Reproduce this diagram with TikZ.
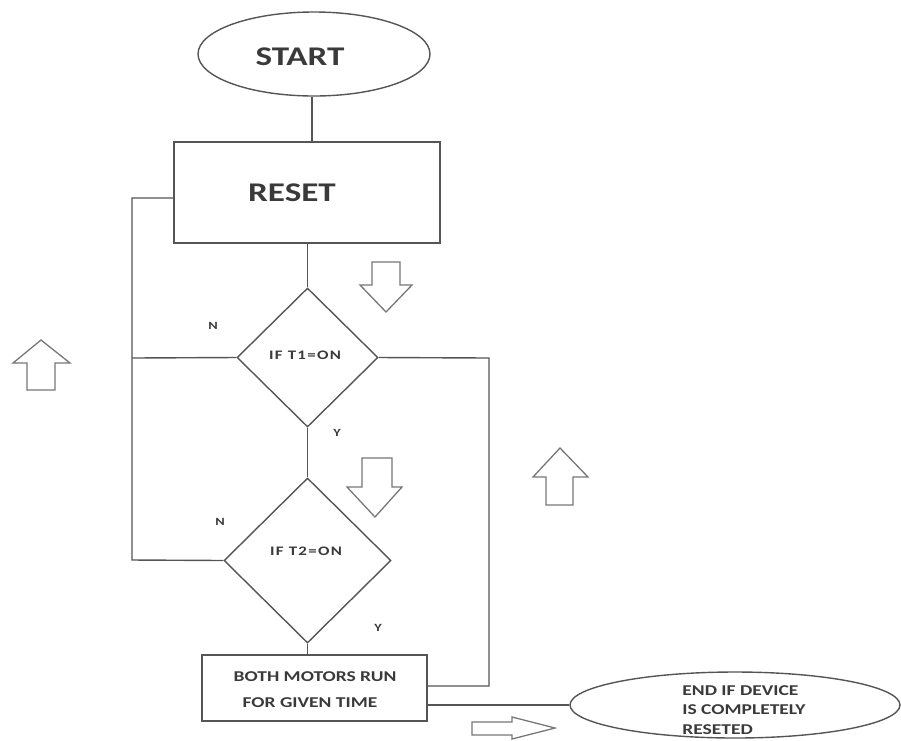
\documentclass[tikz,border=0pt]{standalone}
\usepackage{fontspec}
\setmainfont{Carlito}
\newfontfamily\widefont[FakeStretch=1.3]{Carlito}
\usetikzlibrary{shapes.geometric}
\definecolor{ln}{HTML}{555555}
\definecolor{tx}{HTML}{3A3A3A}
\begin{document}
\begin{tikzpicture}[x=1pt,y=-1pt,
  line width=1.3pt,
  conn/.style={draw=ln, line width=1.4pt},
  shapebox/.style={draw=ln, line width=1.4pt, inner sep=0pt, text=tx},
  bigtxt/.style={text=tx, font=\widefont\fontsize{27}{30}\selectfont\bfseries},
  dtxt/.style={text=tx, font=\widefont\fontsize{13}{15}\selectfont\bfseries\addfontfeature{LetterSpace=10}},
  btxt/.style={text=tx, font=\widefont\fontsize{15}{26}\selectfont\bfseries},
  lbl/.style={text=tx, font=\widefont\fontsize{11}{12}\selectfont\bfseries},
  blockarrow/.style={draw=ln!80, line width=1.3pt, line join=miter}]
\useasboundingbox (0,0) rectangle (901,740);

% nodes
\node[shapebox, ellipse, minimum width=232pt, minimum height=84pt] (start) at (314,54) {};
\node[bigtxt] (starttxt) at (300,57) {START};
\node[shapebox, rectangle, minimum width=266pt, minimum height=101pt] (reset) at (307,192.5) {};
\node[bigtxt] (resettxt) at (292,193) {RESET};
\node[shapebox, diamond, minimum width=141pt, minimum height=139pt] (d1) at (307.5,357.5) {};
\node[dtxt] (d1txt) at (305,355) {IF T1=ON};
\node[shapebox, diamond, minimum width=167pt, minimum height=165pt] (d2) at (307.5,560.5) {};
\node[dtxt] (d2txt) at (306,551) {IF T2=ON};
\node[shapebox, rectangle, minimum width=225pt, minimum height=66pt] (run) at (314.5,688) {};
\node[btxt] (runtxt1) at (315,677) {BOTH MOTORS RUN};
\node[btxt] (runtxt2) at (310,703) {FOR GIVEN TIME};
\node[shapebox, ellipse, minimum width=330pt, minimum height=66pt] (end) at (735,705) {};
\node[btxt, align=left, font=\widefont\fontsize{15}{19.5}\selectfont\bfseries] (endtxt) at (744,710) {END IF DEVICE\\IS COMPLETELY\\RESETED};

% labels
\node[lbl] (n1) at (213,326) {N};
\node[lbl] (y1) at (337,433) {Y};
\node[lbl] (n2) at (220,522) {N};
\node[lbl] (y2) at (378,628) {Y};

% connector corners
\coordinate (la) at (132,198);
\coordinate (lb) at (132,358);
\coordinate (lc) at (132,560);
\coordinate (ra) at (489,358);
\coordinate (rb) at (489,686);

% connectors
\draw[conn] (start.south -| 312,0) -- (312,0 |- reset.north);
\draw[conn] (reset.south -| d1.north) -- (d1.north);
\draw[conn] (d1.south) -- (d2.north);
\draw[conn] (d2.south) -- (d2.south |- run.north);
\draw[conn] (d1.west) -- (lb);
\draw[conn] (la -| reset.west) -- (la) -- (lc) -- (d2.west);
\draw[conn] (d1.east) -- (ra) -- (rb) -- (rb -| run.east);
\draw[conn] (end.west -| run.east) -- (end.west);

% block arrows
\draw[blockarrow] (372,262) -- (400,262) -- (400,285) -- (412,285) -- (386,312) -- (360,285) -- (372,285) -- cycle;
\draw[blockarrow] (362,458) -- (392,458) -- (392,487) -- (402,487) -- (375,517) -- (347,487) -- (362,487) -- cycle;
\draw[blockarrow] (27,390) -- (55,390) -- (55,363) -- (70,363) -- (41,340) -- (13,363) -- (27,363) -- cycle;
\draw[blockarrow] (546,505) -- (573,505) -- (573,477) -- (588,477) -- (560,448) -- (533,477) -- (546,477) -- cycle;
\draw[blockarrow] (472,722) -- (512,722) -- (512,717) -- (555,728) -- (512,739) -- (512,735) -- (472,735) -- cycle;
\end{tikzpicture}
\end{document}
